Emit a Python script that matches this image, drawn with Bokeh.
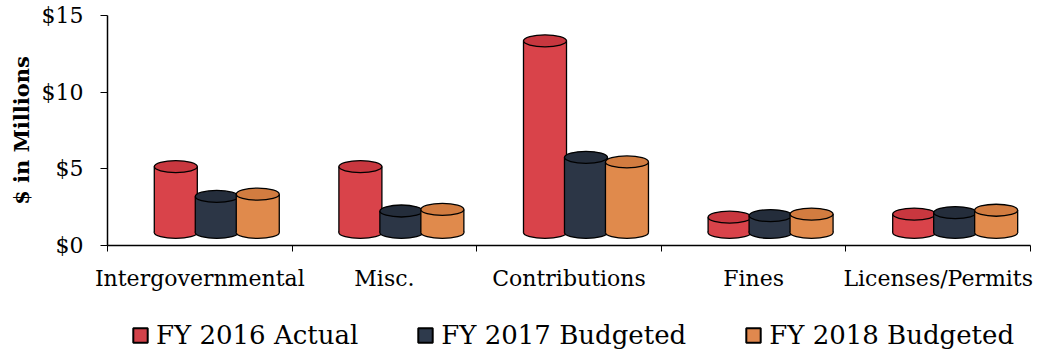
from bokeh.plotting import figure
from bokeh.layouts import column
from bokeh.models import FixedTicker, Range1d, Legend, LegendItem
from bokeh.embed import file_html
from bokeh.resources import INLINE

# ---- data ----
categories = ["Intergovernmental", "Misc.", "Contributions", "Fines", "Licenses/Permits"]
series_names = ["FY 2016 Actual", "FY 2017 Budgeted", "FY 2018 Budgeted"]
fy2016_actual = [4.3, 4.3, 12.5, 1.0, 1.2]
fy2017_budgeted = [2.35, 1.4, 4.9, 1.1, 1.3]
fy2018_budgeted = [2.5, 1.5, 4.6, 1.2, 1.45]
y_ticks = [0, 5, 10, 15]
y_tick_labels = ["$0", "$5", "$10", "$15"]

# ---- style ----
colors = ["#D9434A", "#2C3646", "#E08A4C"]
top_colors = ["#C8373F", "#242D3B", "#D27C40"]
legend_colors = ["#D2424A", "#2E3A4C", "#E0884E"]
FONT = "DejaVu Serif"
DEPTH_X = 0.092    # 3D depth shift (x, data units)
BASE = 0.85        # 3D floor shift (y, data units)
W = 0.233          # cylinder width
STEP = 0.222       # spacing between series
ELL_H = 12         # ellipse height in screen px
NAN = float("nan")

p = figure(width=1037, height=300, output_backend="svg", toolbar_location=None,
           x_range=Range1d(0, 5), y_range=Range1d(0, 15),
           min_border_left=107, min_border_right=7, min_border_top=15,
           min_border_bottom=55)
p.grid.grid_line_color = None
p.outline_line_color = None
p.background_fill_color = "white"

all_series = [fy2016_actual, fy2017_budgeted, fy2018_budgeted]
for s, vals in enumerate(all_series):
    xs = [i + 0.5 + DEPTH_X + (s - 1) * STEP for i in range(len(categories))]
    tops = [BASE + v for v in vals]
    c = colors[s]
    p.ellipse(x=xs, y=[BASE] * len(xs), width=W, height=ELL_H, height_units="screen",
              fill_color=c, line_color="black", line_width=1.3)
    p.vbar(x=xs, width=W, bottom=BASE, top=tops, fill_color=c, line_color=None)
    p.segment(x0=[x - W / 2 for x in xs], y0=[BASE] * len(xs),
              x1=[x - W / 2 for x in xs], y1=tops, line_color="black", line_width=1.3)
    p.segment(x0=[x + W / 2 for x in xs], y0=[BASE] * len(xs),
              x1=[x + W / 2 for x in xs], y1=tops, line_color="black", line_width=1.3)
    p.ellipse(x=xs, y=tops, width=W, height=ELL_H, height_units="screen",
              fill_color=top_colors[s], line_color="black", line_width=1.3)

# x axis
centers = [i + 0.5 for i in range(len(categories))]
p.xaxis.ticker = FixedTicker(ticks=centers, minor_ticks=list(range(len(categories) + 1)))
p.xaxis.major_label_overrides = {c: lab for c, lab in zip(centers, categories)}
p.xaxis.major_tick_line_color = None
p.xaxis.major_tick_out = 0
p.xaxis.minor_tick_out = 6
p.xaxis.minor_tick_in = 0
p.xaxis.minor_tick_line_color = "black"
p.xaxis.axis_line_color = "black"
p.xaxis.axis_line_width = 1.5
p.xaxis.major_label_text_font = FONT
p.xaxis.major_label_text_font_size = "22px"
p.xaxis.major_label_text_color = "black"
p.xaxis.major_label_standoff = 14

# y axis
p.yaxis.ticker = FixedTicker(ticks=y_ticks, minor_ticks=[])
p.yaxis.major_label_overrides = {t: lab for t, lab in zip(y_ticks, y_tick_labels)}
p.yaxis.major_tick_out = 7
p.yaxis.major_tick_in = 0
p.yaxis.major_tick_line_color = "black"
p.yaxis.axis_line_color = "black"
p.yaxis.axis_line_width = 1.5
p.yaxis.major_label_text_font = FONT
p.yaxis.major_label_text_font_size = "22px"
p.yaxis.major_label_text_color = "black"
p.yaxis.major_label_standoff = 17
p.yaxis.axis_label = "$ in Millions"
p.yaxis.axis_label_text_font = FONT
p.yaxis.axis_label_text_font_style = "bold"
p.yaxis.axis_label_text_font_size = "21px"
p.yaxis.axis_label_text_color = "black"
p.yaxis.axis_label_standoff = 5

# legend strip below the chart
lg = figure(width=1037, height=53, output_backend="svg", toolbar_location=None,
            x_range=Range1d(0, 1), y_range=Range1d(0, 1),
            min_border=0, x_axis_type=None, y_axis_type=None)
lg.grid.grid_line_color = None
lg.outline_line_color = None
legend_items = []
for s, name in enumerate(series_names):
    dummy = lg.vbar(x=[NAN], top=[NAN], width=0.1, fill_color=legend_colors[s],
                    line_color="black", line_width=2)
    legend_items.append(LegendItem(label=name, renderers=[dummy]))
legend = Legend(items=legend_items, orientation="horizontal", location=(24, 3),
                label_text_font=FONT, label_text_font_size="26px", label_text_color="black",
                glyph_width=18, glyph_height=18, spacing=58, label_standoff=7,
                border_line_color=None, background_fill_alpha=0, padding=0, margin=0)
lg.add_layout(legend, "center")

layout = column(p, lg, spacing=0)
open("out.html", "w").write(file_html(layout, INLINE))
